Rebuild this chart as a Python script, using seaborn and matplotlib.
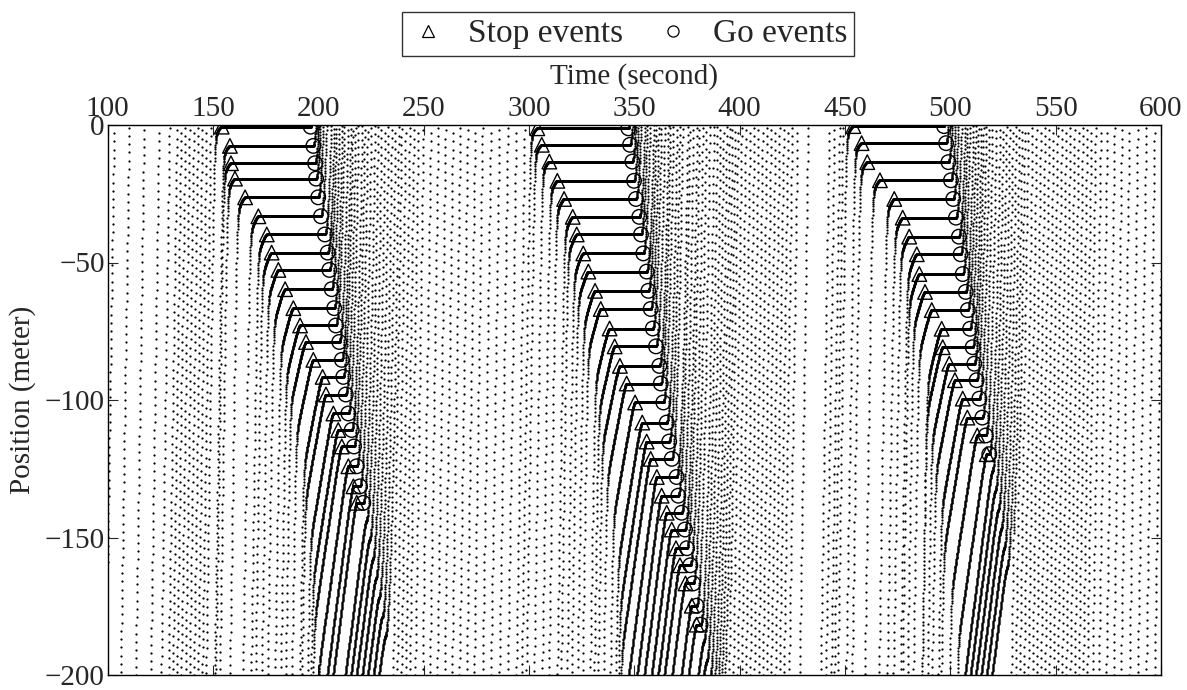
import numpy as np
import pandas as pd
import matplotlib
matplotlib.use("Agg")
import matplotlib.pyplot as plt
import seaborn as sns
from matplotlib.lines import Line2D

# ---------------- data ----------------
# stop / go events, cycle 1
stop1_t = [154.2, 158.1, 158.6, 160.5, 165.3, 171.6, 175.6, 177.9, 181.1, 184.3, 188.2,
           191.4, 194.2, 197.7, 202.1, 203.7, 207.2, 209.5, 211.2, 214.3, 216.7, 218.3]
stop1_x = [-0.6, -7.6, -13.9, -19.5, -26.3, -33.2, -39.8, -46.4, -52.7, -59.7, -66.6,
           -72.9, -78.9, -85.4, -91.6, -98.0, -104.9, -110.9, -116.9, -124.1, -131.4, -137.4]
go1_t = [196.4, 197.7, 198.5, 199.0, 200.0, 201.3, 203.2, 204.5, 205.3, 206.4, 207.6,
         208.4, 210.0, 211.2, 211.9, 213.1, 214.3, 215.9, 217.0, 218.3, 219.8, 221.4]
# cycle 2
stop2_t = [304.0, 306.1, 309.7, 313.5, 316.7, 320.8, 322.7, 325.8, 328.2, 331.4, 334.1,
           338.3, 340.7, 343.2, 346.4, 350.4, 353.8, 355.9, 357.8, 360.7, 363.0, 365.4,
           367.8, 369.8, 371.7, 374.3, 377.3, 379.6]
stop2_x = [-1.2, -7.2, -13.3, -20.3, -26.9, -33.4, -39.8, -46.7, -53.3, -60.3, -66.9,
           -74.0, -80.5, -87.6, -94.0, -100.9, -108.2, -115.1, -121.4, -128.0, -134.8,
           -141.0, -147.1, -153.9, -160.1, -166.7, -174.8, -181.7]
go2_t = [347.2, 348.0, 349.1, 349.9, 350.8, 352.4, 353.2, 354.3, 355.9, 356.7, 357.8,
         358.8, 360.3, 361.9, 362.6, 363.8, 365.4, 366.6, 367.8, 370.1, 370.9, 372.5,
         374.1, 375.0, 376.6, 378.0, 379.6, 381.5]
# cycle 3
stop3_t = [454.0, 457.9, 460.6, 466.6, 473.4, 477.4, 480.5, 484.1, 485.3, 488.0, 491.2,
           495.9, 496.4, 499.5, 502.2, 505.9, 508.1, 512.8, 517.3]
stop3_x = [-0.4, -6.6, -13.5, -20.1, -26.9, -33.7, -40.6, -47.0, -54.2, -60.7, -67.3,
           -74.1, -80.8, -86.8, -92.8, -99.5, -106.4, -112.9, -119.7]
go3_t = [497.0, 498.0, 499.1, 500.3, 501.4, 502.7, 504.1, 504.9, 505.9, 507.3, 508.3,
         509.4, 510.6, 511.4, 512.5, 513.8, 515.2, 516.8, 518.5]

# vehicles behind each queue that slow down but do not stop:
# time (s) and position (m) of their slowest point
wake1_t = [222.8, 224.3, 225.8, 227.3, 228.8, 230.3, 231.8]
wake1_x = [-144.0, -151.0, -158.0, -165.0, -172.0, -179.0, -186.0]
wake2_t = [382.9, 384.3, 385.7, 387.1]
wake2_x = [-188.0, -195.0, -202.0, -209.0]
wake3_t = [519.9, 521.3, 522.7, 524.1, 525.5, 526.9]
wake3_x = [-126.0, -133.0, -140.0, -147.0, -154.0, -161.0]

# vehicles that never slow down: time (s) at which each passes -100 m
free_a = [101.2, 108.3, 115.4, 122.5, 127.5, 131.0, 133.0, 135.0, 137.0, 139.0,
          141.0, 143.0, 145.0, 147.0]
free_b = [237.5, 239.5, 241.5, 243.5, 245.5, 248.0, 251.5, 255.0, 258.5, 262.0, 265.5,
          269.0, 272.5, 276.0, 280.0, 284.0, 288.0, 292.0, 296.0]
free_c = [391.0, 393.0, 395.0, 397.0, 399.0, 401.0, 403.0, 405.0, 407.0, 409.0, 411.0,
          413.0, 415.0, 417.0, 419.0, 421.0, 423.0, 425.5, 430.5, 440.5, 443.0, 445.5,
          447.0]
free_d = [531.0, 533.0, 535.0, 537.0, 539.0, 541.0, 543.0, 545.0, 547.0, 549.0, 551.0,
          553.0, 555.0, 557.0, 559.0, 561.0, 563.0, 565.0, 567.0, 569.5, 572.5, 576.0,
          579.5, 583.0, 587.0, 591.0, 595.0, 599.0]

# ---------------- kinematic model parameters ----------------
V_FREE = 50.0     # free speed (m/s)
ACC = 9.0         # launch acceleration (m/s^2)
DT = 0.06         # sampling step of the trajectory dots (s)
TAU, DELTA = 1.2, 6.5

T = np.arange(90.0, 625.0, DT)
SG = np.arange(0.0, 80.0, DT)


def free_traj(t_mid):
    return -100.0 + V_FREE * (T - t_mid)


def event_traj(ts, ps, tg, frac, v_min):
    """approach (slow crawl then stop / near-stop), dwell, launch"""
    v_s = min(1.2 + 5.0 * frac ** 1.5, 6.0)
    s1 = 3.5 + 14.0 * frac ** 2.2
    v = (v_min + (v_s - v_min) * (1 - np.exp(-SG / 0.8))
         + (V_FREE - v_s) / (1 + np.exp(-(SG - s1) / 0.35)))
    d = np.cumsum(v) * DT
    d -= d[0]
    x = np.empty_like(T)
    s = ts - T
    m = (s >= 0) & (s < SG[-1])
    x[m] = ps - np.interp(s[m], SG, d)
    m = s >= SG[-1]
    x[m] = ps - d[-1] - V_FREE * (s[m] - SG[-1])
    m = (T > ts) & (T <= tg)
    x[m] = ps
    u = T - tg
    ta = (V_FREE - v_min) / ACC
    m = (u > 0) & (u < ta)
    x[m] = ps + v_min * u[m] + 0.5 * ACC * u[m] ** 2
    m = u >= ta
    x[m] = ps + v_min * ta + 0.5 * ACC * ta ** 2 + V_FREE * (u[m] - ta)
    return x


def shifted(prev, tau, delta):
    n = int(round(tau / DT))
    out = np.full_like(prev, np.inf)
    if n > 0:
        out[n:] = prev[:-n] - delta
    else:
        out[:] = prev - delta
    return out


# (desired trajectory, tau, delta, follow leader?)
vehicles = []
for t in free_a:
    vehicles.append((free_traj(t), TAU, DELTA, True))
for ts_l, xs_l, tg_l, wt, wx, fr in [(stop1_t, stop1_x, go1_t, wake1_t, wake1_x, free_b),
                                     (stop2_t, stop2_x, go2_t, wake2_t, wake2_x, free_c),
                                     (stop3_t, stop3_x, go3_t, wake3_t, wake3_x, free_d)]:
    for k in range(len(ts_l)):
        frac = min(abs(xs_l[k]) / 137.0, 1.35)
        vehicles.append((event_traj(ts_l[k], xs_l[k], tg_l[k], frac, 0.0), TAU, DELTA, False))
    last_t, last_x = tg_l[-1], xs_l[-1]
    for tw, xw in zip(wt, wx):
        tau, dl = max(tw - last_t, 0.3), last_x - xw
        vehicles.append((event_traj(tw, xw, tw, 1.0, 1.5), tau, dl, True))
        last_t, last_x = tw, xw
    for t in fr:
        vehicles.append((free_traj(t), TAU, DELTA, True))

rows_t, rows_x = [], []
prev = None
for des, tau, dl, follow in vehicles:
    x = des if (prev is None or not follow) else np.minimum(des, shifted(prev, tau, dl))
    prev = x
    m = (x >= -200) & (x <= 0) & (T >= 100) & (T <= 600)
    rows_t.append(T[m])
    rows_x.append(x[m])

traj = pd.DataFrame({"t": np.concatenate(rows_t), "x": np.concatenate(rows_x)})
stops = pd.DataFrame({"t": stop1_t + stop2_t + stop3_t, "x": stop1_x + stop2_x + stop3_x})
goes = pd.DataFrame({"t": go1_t + go2_t + go3_t, "x": stop1_x + stop2_x + stop3_x})

# ---------------- drawing ----------------
sns.set_style("ticks")
plt.rcParams["font.family"] = ["Liberation Serif", "DejaVu Serif"]

fig = plt.figure(figsize=(11.87, 6.90), dpi=100)
ax = fig.add_axes([107.5 / 1187, 1 - 675 / 690, (1161 - 107.5) / 1187, (675 - 125) / 690])

sns.scatterplot(data=traj, x="t", y="x", s=2.6, color="black", linewidth=0,
                ax=ax, legend=False)
sns.scatterplot(data=stops, x="t", y="x", marker="^", s=110, facecolor="none",
                edgecolor="black", linewidth=1.0, ax=ax, legend=False)
sns.scatterplot(data=goes, x="t", y="x", marker="o", s=110, facecolor="none",
                edgecolor="black", linewidth=1.0, ax=ax, legend=False)

ax.set_xlim(100, 600)
ax.set_ylim(-200, 0)
ax.set_xticks(np.arange(100, 601, 50))
ax.set_yticks(np.arange(-200, 1, 50))
ax.xaxis.tick_top()
ax.xaxis.set_label_position("top")
ax.tick_params(axis="both", which="both", direction="in", length=7, width=0.8,
               labelsize=21, top=True, bottom=True, left=True, right=True, pad=2)
ax.set_xlabel("Time (second)", fontsize=21, labelpad=9)
ax.set_ylabel("Position (meter)", fontsize=21, labelpad=6)
for sp in ax.spines.values():
    sp.set_linewidth(1.0)
    sp.set_color("black")

handles = [Line2D([], [], linestyle="none", marker="^", markersize=8, mfc="none", mec="black", mew=0.9),
           Line2D([], [], linestyle="none", marker="o", markersize=8, mfc="none", mec="black", mew=0.9)]
leg = fig.legend(handles, ["Stop events", "Go events"], loc="center",
                 bbox_to_anchor=(628 / 1187, 1 - 34 / 690), ncol=2, fontsize=24,
                 frameon=True, fancybox=False, edgecolor="black", handletextpad=0.6,
                 columnspacing=0.9, borderpad=0.2, handlelength=1.2)
leg.get_frame().set_linewidth(1.0)

fig.savefig("out.png", dpi=100)
